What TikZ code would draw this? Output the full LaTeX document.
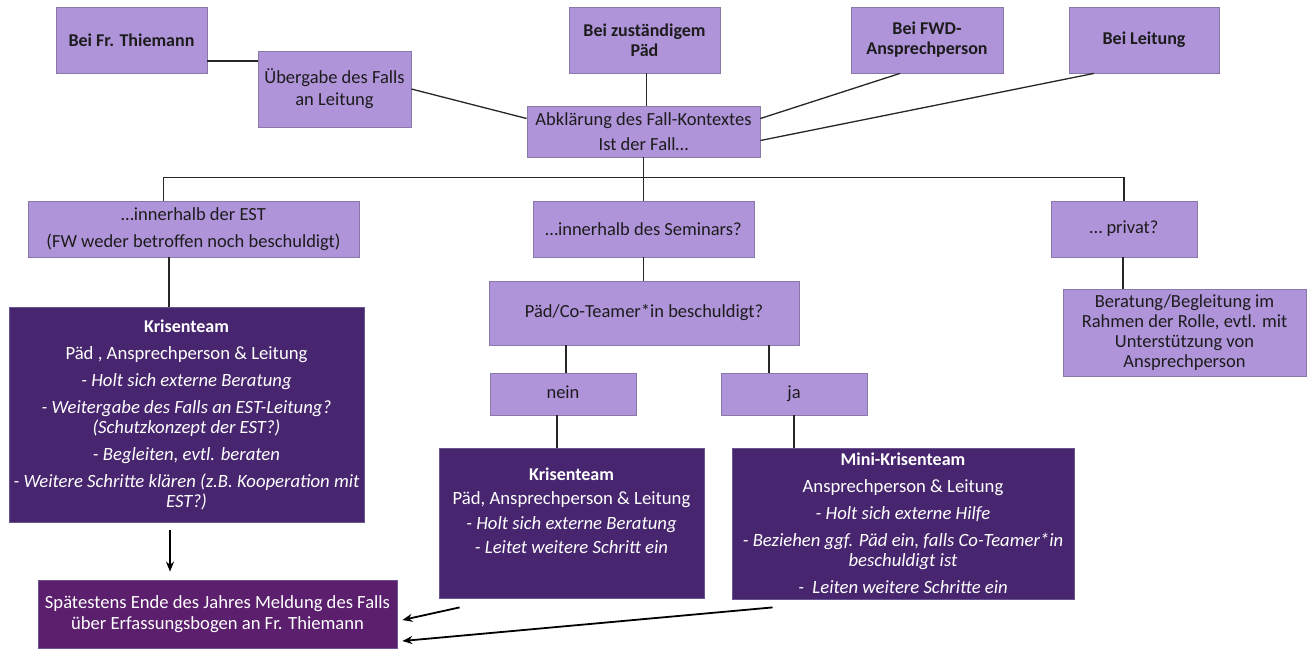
\documentclass[tikz,border=0pt]{standalone}
\usepackage{fontspec}
\setmainfont{Carlito}
\usetikzlibrary{arrows.meta,calc}
\definecolor{lfill}{HTML}{B094DA}
\definecolor{lborder}{HTML}{8A78A8}
\definecolor{dfill}{HTML}{48266F}
\definecolor{dborder}{HTML}{6A5590}
\definecolor{mfill}{HTML}{5C1F6E}
\definecolor{ltext}{HTML}{1C1C1C}
\tikzset{
  lbox/.style={draw=lborder, fill=lfill, line width=0.8pt, align=center, inner sep=2pt, text=ltext, font=\fontsize{18.5}{22}\selectfont},
  hbox/.style={lbox, font=\fontsize{18}{20}\selectfont\bfseries},
  dbox/.style={draw=dborder, fill=dfill, line width=0.8pt, align=center, inner sep=2pt, text=white, font=\fontsize{18.7}{20}\selectfont},
  conn/.style={draw=black!85, line width=1.3pt},
  arr/.style={draw=black, line width=1.8pt, -{Stealth[length=10pt,width=8pt]}}
}
\begin{document}
\begin{tikzpicture}[x=1pt,y=-1pt]
\fill[white] (0,0) rectangle (1314,651);
\useasboundingbox (0,0) rectangle (1314,651);

% top row
\node[hbox, minimum width=151, minimum height=66] (thiem) at (131.5,40) {Bei Fr. Thiemann};
\node[lbox, minimum width=153, minimum height=76] (ueber) at (334.5,89) {Übergabe des Falls\\an Leitung};
\node[hbox, minimum width=151, minimum height=66] (paed) at (644.5,40) {Bei zuständigem\\Päd};
\node[hbox, minimum width=152, minimum height=66] (fwd) at (927,40) {Bei FWD-\\Ansprechperson};
\node[hbox, minimum width=150, minimum height=66] (leit) at (1144,40) {Bei Leitung};
\node[lbox, minimum width=233, minimum height=51] (abkl) at (643.5,131.5) {Abklärung des Fall-Kontextes\\[3pt]Ist der Fall…};

% second row
\node[lbox, minimum width=331, minimum height=56] (est) at (193.5,229) {…innerhalb der EST\\[5pt](FW weder betroffen noch beschuldigt)};
\node[lbox, minimum width=221, minimum height=56] (sem) at (643.5,229) {…innerhalb des Seminars?};
\node[lbox, minimum width=146, minimum height=56] (priv) at (1124,229) {… privat?};

% third level
\node[dbox, minimum width=355, minimum height=215] (kris1) at (186.5,414.5)
  {{\fontsize{18}{20}\selectfont\bfseries Krisenteam}\\[7pt]
   Päd , Ansprechperson \& Leitung\\[7pt]
   \textit{- Holt sich externe Beratung}\\[7pt]
   \textit{- Weitergabe des Falls an EST-Leitung?}\\
   \textit{(Schutzkonzept der EST?)}\\[7pt]
   \textit{- Begleiten, evtl. beraten}\\[7pt]
   \textit{- Weitere Schritte klären (z.B. Kooperation mit}\\
   \textit{EST?)}};
\node[lbox, minimum width=310, minimum height=64] (pco) at (644,313) {Päd/Co-Teamer*in beschuldigt?};
\node[lbox, minimum width=146, minimum height=42] (nein) at (563,394) {\strut nein};
\node[lbox, minimum width=146, minimum height=42] (ja) at (794,394) {\strut ja};
\node[lbox, minimum width=243, minimum height=87, font=\fontsize{18.5}{20}\selectfont] (berat) at (1184.5,332.5)
  {Beratung/Begleitung im\\Rahmen der Rolle, evtl. mit\\Unterstützung von\\Ansprechperson};
\node[dbox, minimum width=265, minimum height=150] (kris2) at (571.5,523)
  {{\fontsize{18}{20}\selectfont\bfseries Krisenteam}\\[4.5pt]
   Päd, Ansprechperson \& Leitung\\[4.5pt]
   \textit{- Holt sich externe Beratung}\\[4.5pt]
   \textit{- Leitet weitere Schritt ein}\\[4.5pt]\mbox{}};
\node[dbox, minimum width=342, minimum height=151] (mini) at (903,523.5)
  {{\fontsize{18}{20}\selectfont\bfseries Mini-Krisenteam}\\[7pt]
   Ansprechperson \& Leitung\\[7pt]
   \textit{- Holt sich externe Hilfe}\\[7pt]
   \textit{- Beziehen ggf. Päd ein, falls Co-Teamer*in}\\
   \textit{beschuldigt ist}\\[7pt]
   \textit{-\ \ Leiten weitere Schritte ein}};
\node[dbox, fill=mfill, minimum width=359, minimum height=68, font=\fontsize{18.6}{21}\selectfont] (spaet) at (217.5,614)
  {Spätestens Ende des Jahres Meldung des Falls\\über Erfassungsbogen an Fr. Thiemann};

% connectors top
\path (thiem.east) ++(0,21) coordinate (t1);
\draw[conn] (t1) -- (t1 -| ueber.west);
\draw[conn] (ueber.east) -- ([yshift=13pt]abkl.west);
\draw[conn] ([xshift=2pt]paed.south) -- ([xshift=2pt]paed.south |- abkl.north);
\draw[conn] ([xshift=-27pt]fwd.south) -- ([yshift=13pt]abkl.east);
\draw[conn] ([xshift=-50pt]leit.south) -- ([yshift=-9pt]abkl.east);

% bus
\draw[conn] (abkl.south) -- (sem.north);
\draw[conn] ([xshift=-30pt]est.north) -- ++(0,-23) -| (priv.north);

% second level
\draw[conn] ([xshift=-24.5pt]est.south) coordinate (e1) -- (e1 |- kris1.north);
\draw[conn] (sem.south) -- (sem.south |- pco.north);
\draw[conn] ([xshift=3pt]nein.north) coordinate (n1) -- (n1 |- pco.south);
\draw[conn] ([xshift=-25pt]ja.north) coordinate (j1) -- (j1 |- pco.south);
\draw[conn] ([xshift=-6pt]nein.south) coordinate (n2) -- (n2 |- kris2.north);
\draw[conn] (ja.south) -- (ja.south |- mini.north);
\draw[conn] ([xshift=-1pt]priv.south) coordinate (p1) -- (p1 |- berat.north);

% arrows to final
\draw[arr, shorten <=8pt, shorten >=8pt] ([xshift=-16.5pt]kris1.south) coordinate (k1) -- (k1 |- spaet.north);
\draw[arr] ([shift={(21pt,-9pt)}]kris2.south west) -- ([shift={(5pt,-6pt)}]spaet.east);
\draw[arr] ([shift={(41pt,-8pt)}]mini.south west) -- ([shift={(5pt,-27pt)}]spaet.east);
\end{tikzpicture}
\end{document}
